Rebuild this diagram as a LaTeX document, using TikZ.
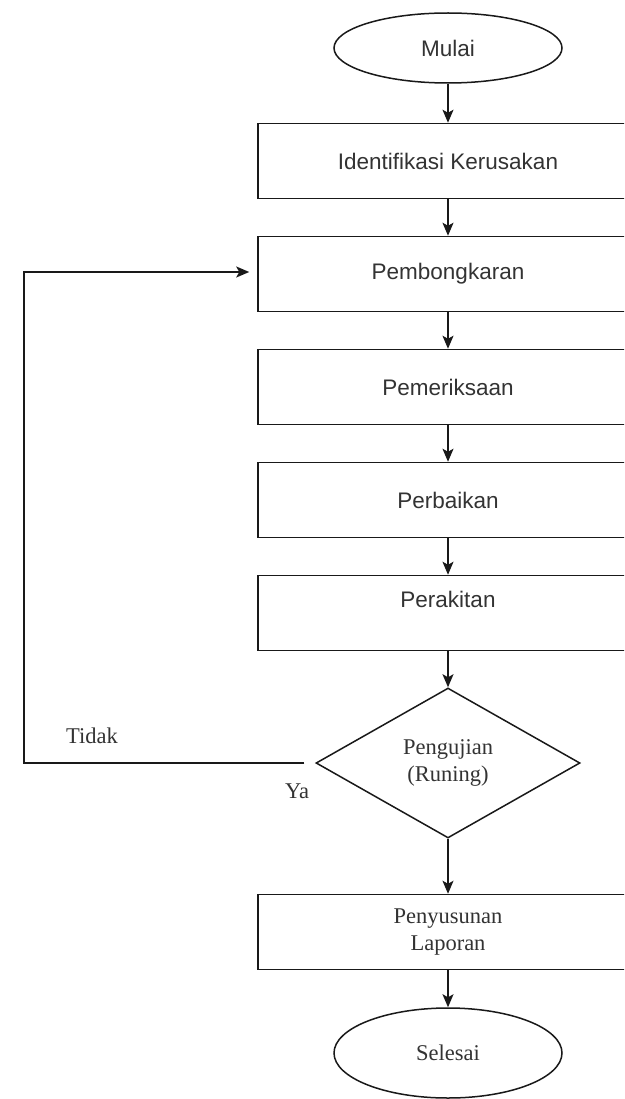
\documentclass[tikz,border=0pt]{standalone}
\usepackage{fontspec}
\setmainfont{Liberation Serif}
\newfontfamily\sansf{Liberation Sans}
\usetikzlibrary{shapes.geometric,arrows.meta}
\tikzset{
  line/.style={line width=1.5pt, draw=black!90},
  box/.style={line, rectangle, minimum width=380pt, minimum height=75pt, inner sep=0pt},
  term/.style={line, ellipse, minimum width=228pt, inner sep=0pt},
  dec/.style={line, diamond, minimum width=264pt, minimum height=150pt, inner sep=0pt, align=center},
  stxt/.style={font=\sansf\fontsize{22.5}{27}\selectfont, text=black!80},
  rtxt/.style={font=\fontsize{22.5}{27}\selectfont, text=black!80},
  arr/.style={line, -{Stealth[length=13pt,width=11pt,inset=3pt]}},
}
\begin{document}
\begin{tikzpicture}[x=1pt,y=-1pt]
\useasboundingbox (0,0) rectangle (624,1099);
\clip (0,0) rectangle (624,1099);
\fill[white] (0,0) rectangle (624,1099);
\node[term, minimum height=70pt, stxt] (mulai) at (448,48) {Mulai};
\node[box, stxt] (ident) at (448,161) {Identifikasi Kerusakan};
\node[box, stxt] (bongkar) at (448,274) {Pembongkaran};
\node[box, stxt] (periksa) at (448,387) {Pemeriksaan};
\node[box, stxt] (baik) at (448,500) {Perbaikan};
\node[box] (rakit) at (448,613) {};
\node[stxt] (rakittxt) at (448,599) {Perakitan};
\node[dec, rtxt] (uji) at (448,763) {Pengujian\\(Runing)};
\node[box, rtxt, align=center] (lapor) at (448,932) {Penyusunan\\Laporan};
\node[term, minimum height=90pt, rtxt] (selesai) at (448,1053) {Selesai};
\coordinate (c1) at (24,763);
\coordinate (c2) at (24,272);
\draw[arr] (mulai) -- (ident);
\draw[arr] (ident) -- (bongkar);
\draw[arr] (bongkar) -- (periksa);
\draw[arr] (periksa) -- (baik);
\draw[arr] (baik) -- (rakit);
\draw[arr] (rakit) -- (uji);
\draw[arr] (uji) -- (lapor);
\draw[arr] (lapor) -- (selesai);
\draw[arr, shorten >=8pt] ([xshift=-11pt]uji.west) -- (c1) -- (c2) -- (c2 -| bongkar.west);
\node[rtxt] (tidak) at (92,736) {Tidak};
\node[rtxt] (ya) at (297,791) {Ya};
\end{tikzpicture}
\end{document}
